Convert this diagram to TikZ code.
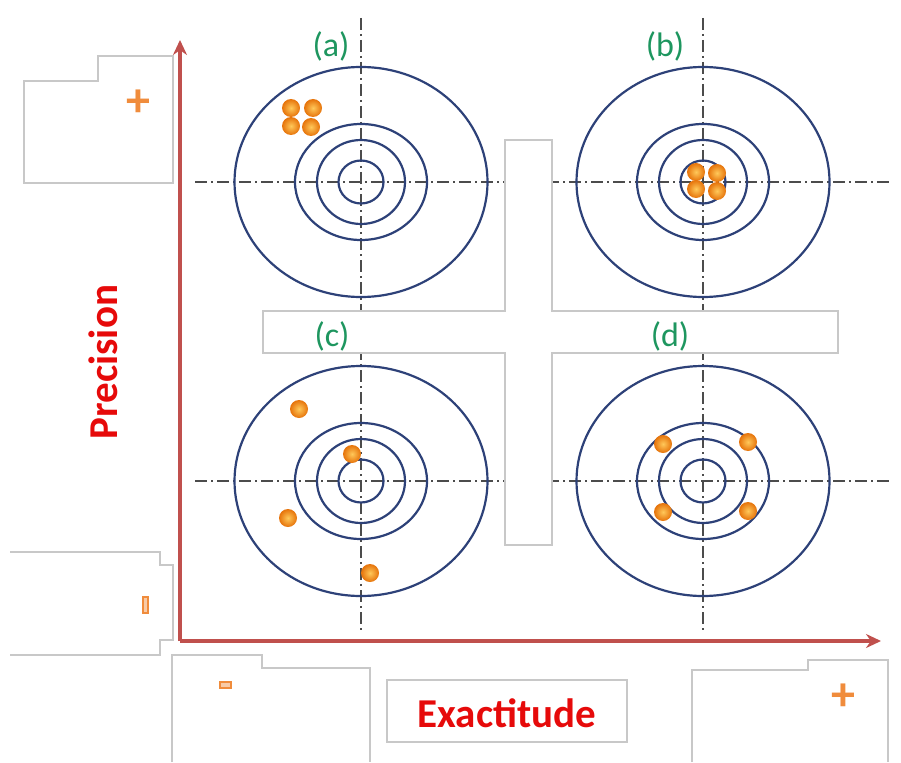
\documentclass[tikz,border=0pt]{standalone}
\usepackage{fontspec}
\setmainfont{Carlito}
\usetikzlibrary{arrows.meta}
\definecolor{ringblue}{RGB}{45,65,120}
\definecolor{axisred}{RGB}{192,80,77}
\definecolor{labelgreen}{RGB}{30,150,95}
\definecolor{boxgray}{RGB}{200,200,200}
\definecolor{signorange}{RGB}{240,140,60}
\definecolor{dotlight}{RGB}{255,200,90}
\definecolor{dotdark}{RGB}{230,115,10}
\definecolor{wordred}{RGB}{230,10,10}

\tikzset{
  ring/.style={draw=ringblue, line width=2.2pt},
  centerline/.style={draw=black!70, line width=1.4pt, dash pattern=on 12pt off 4pt on 2pt off 4pt},
  folder/.style={draw=boxgray, line width=1.4pt, fill=white},
  shot/.style={circle, inner sep=0pt, minimum size=18pt, shading=radial, inner color=dotlight, outer color=dotdark},
  panel/.style={text=labelgreen, font=\fontsize{34}{34}\selectfont},
  sign/.style={text=signorange, font=\bfseries\fontsize{48}{48}\selectfont},
  bar/.style={draw=signorange, fill=signorange!45, line width=1.2pt},
  word/.style={text=wordred, font=\bfseries\fontsize{41}{41}\selectfont}
}

\begin{document}
\begin{tikzpicture}[x=1pt,y=-1pt]
\useasboundingbox (0,0) rectangle (901,762);
% the dash-dot center lines
\draw[centerline] (361,18) -- (361,632);
\draw[centerline] (703,18) -- (703,632);
\draw[centerline] (195,182) -- (890,182);
\draw[centerline] (195,481) -- (890,481);
% the four targets
\foreach \cx/\cy in {361/182, 703/182, 361/481, 703/481}{
  \draw[ring] (\cx,\cy) ellipse [x radius=126.5, y radius=115];
  \draw[ring] (\cx,\cy) ellipse [x radius=66, y radius=58];
  \draw[ring] (\cx,\cy) ellipse [x radius=44, y radius=42];
  \draw[ring] (\cx,\cy) ellipse [x radius=22.5, y radius=21.5];
}
% the white cross
\draw[draw=boxgray, line width=1.2pt, fill=white] (505,140) -- (552,140) -- (552,311) -- (838,311)
  -- (838,353) -- (552,353) -- (552,545) -- (505,545) -- (505,353) -- (263,353) -- (263,311)
  -- (505,311) -- cycle;
% panel labels
\node[panel] (la) at (331,46) {(a)};
\node[panel] (lb) at (665,46) {(b)};
\node[panel] (lc) at (332,336) {(c)};
\node[panel] (ld) at (670,336) {(d)};
% the shots
%     (a)
\node[shot] (a1) at (291,108) {};
\node[shot] (a2) at (313,108) {};
\node[shot] (a3) at (291,126) {};
\node[shot] (a4) at (311,127) {};
%     (b)
\node[shot] (b1) at (696,172) {};
\node[shot] (b2) at (717,173) {};
\node[shot] (b3) at (696,189) {};
\node[shot] (b4) at (717,191) {};
%     (c)
\node[shot] (c1) at (299,409) {};
\node[shot] (c2) at (352,454) {};
\node[shot] (c3) at (288,518) {};
\node[shot] (c4) at (370,573) {};
%     (d)
\node[shot] (d1) at (663,444) {};
\node[shot] (d2) at (748,442) {};
\node[shot] (d3) at (663,512) {};
\node[shot] (d4) at (748,511) {};
% the folders with the signs
\draw[folder] (24,81) -- (98,81) -- (98,56) -- (173,56) -- (173,183) -- (24,183) -- cycle;
\draw[folder] (10,552) -- (160,552) -- (160,565) -- (173,565) -- (173,640) -- (160,640)
  -- (160,655) -- (10,655);
\draw[folder] (172,762) -- (172,655) -- (262,655) -- (262,668) -- (370,668) -- (370,762);
\draw[folder] (692,762) -- (692,670) -- (808,670) -- (808,660) -- (888,660) -- (888,762);
\node[sign] (splus1) at (138,103) {+};
\draw[bar] (143,597) rectangle (148,613);
\draw[bar] (220,682) rectangle (231,688);
\node[sign] (splus2) at (843,697) {+};
% the axes
\coordinate (origin) at (180,641);
\coordinate (ytip) at (180,40);
\coordinate (xtip) at (881,641);
\draw[axisred, line width=3.5pt, -{Stealth[length=15pt,width=14pt]}] (origin) -- (ytip);
\draw[axisred, line width=3.5pt, -{Stealth[length=15pt,width=14pt]}] (origin) -- (xtip);
% axis names
\node[word, rotate=90] (precision) at (103,362) {Precision};
\node[draw=boxgray, line width=1.2pt, fill=white, minimum width=240pt, minimum height=62pt] (exbox) at (507,711) {};
\node[word] (exactitude) at (507,713) {Exactitude};
\end{tikzpicture}
\end{document}
